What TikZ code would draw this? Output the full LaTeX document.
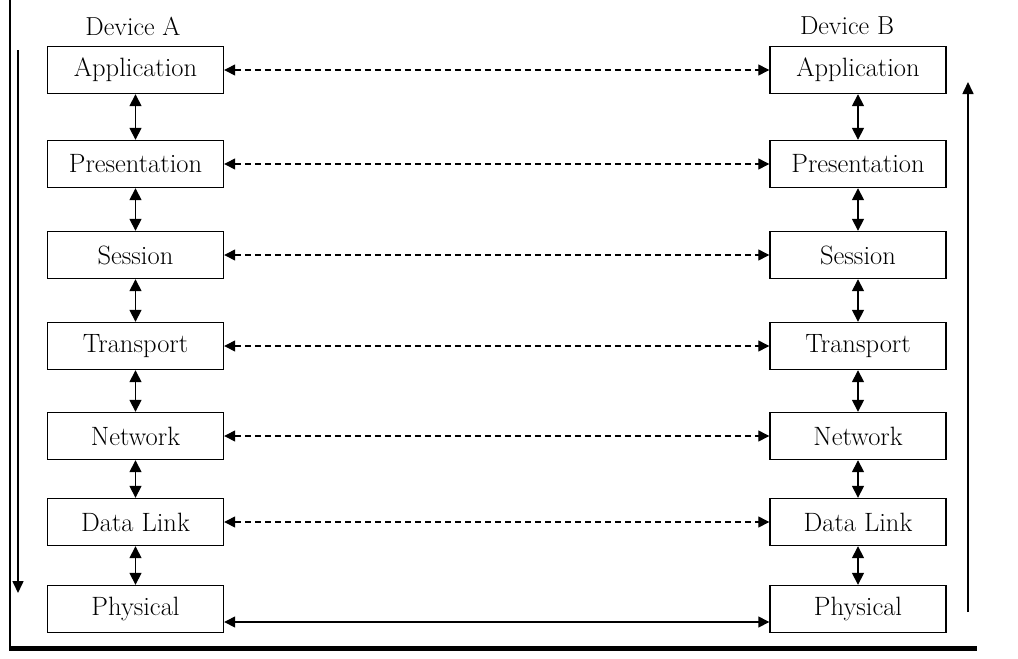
\documentclass[tikz,border=0pt]{standalone}
\usepackage{fontspec}
\usetikzlibrary{arrows.meta}
\begin{document}
\begin{tikzpicture}[x=1pt,y=-1pt,
  layer/.style={draw,line width=1.4pt,minimum width=176pt,minimum height=47pt,inner sep=0pt,font=\fontsize{26.5}{30}\selectfont},
  devlabel/.style={font=\fontsize{26}{30}\selectfont,inner sep=0pt},
  vlink/.style={line width=1.6pt,{Triangle[length=12pt,width=12pt]}-{Triangle[length=12pt,width=12pt]}},
  peer/.style={line width=1.3pt,dash pattern=on 6pt off 4pt,{Triangle[length=11pt,width=11pt]}-{Triangle[length=11pt,width=11pt]}},
  phys/.style={line width=1.4pt,{Triangle[length=11pt,width=11pt]}-{Triangle[length=11pt,width=11pt]}},
  flow/.style={line width=1.6pt,-{Triangle[length=12pt,width=11pt]}}]
\useasboundingbox (0,0) rectangle (1018,659);
% frame lines
\coordinate (ft) at (10,0);
\coordinate (fb) at (10,648.5);
\coordinate (fr) at (977,648.5);
\draw[line width=1.6pt] (ft) -- (10,651);
\draw[line width=5pt] (fb) -- (fr);
% labels
\node[devlabel] (da) at (133,26) {Device A};
\node[devlabel] (db) at (847,26) {Device B};
% left stack
\node[layer] (la) at (135.5,70) {Application};
\node[layer] (lp) at (135.5,164) {Presentation};
\node[layer] (ls) at (135.5,255) {Session};
\node[layer] (lt) at (135.5,346) {Transport};
\node[layer] (ln) at (135.5,436) {Network};
\node[layer] (ld) at (135.5,522) {Data Link};
\node[layer] (lh) at (135.5,609) {Physical};
% right stack
\node[layer] (ra) at (858,70) {Application};
\node[layer] (rp) at (858,164) {Presentation};
\node[layer] (rs) at (858,255) {Session};
\node[layer] (rt) at (858,346) {Transport};
\node[layer] (rn) at (858,436) {Network};
\node[layer] (rd) at (858,522) {Data Link};
\node[layer] (rh) at (858,609) {Physical};
% vertical links
\foreach \a/\b in {la/lp,lp/ls,ls/lt,lt/ln,ln/ld,ld/lh,ra/rp,rp/rs,rs/rt,rt/rn,rn/rd,rd/rh}
  \draw[vlink] (\a.south) -- (\b.north);
% peer links
\foreach \a/\b in {la/ra,lp/rp,ls/rs,lt/rt,ln/rn,ld/rd}
  \draw[peer] (\a.east) -- (\b.west);
\draw[phys] ([yshift=-13pt]lh.east) -- ([yshift=-13pt]rh.west);
% flow arrows
\coordinate (ds) at (18,50);
\coordinate (de) at (18,593);
\coordinate (us) at (968,612);
\coordinate (ue) at (968,82);
\draw[flow] (ds) -- (de);
\draw[flow] (us) -- (ue);
\end{tikzpicture}
\end{document}
